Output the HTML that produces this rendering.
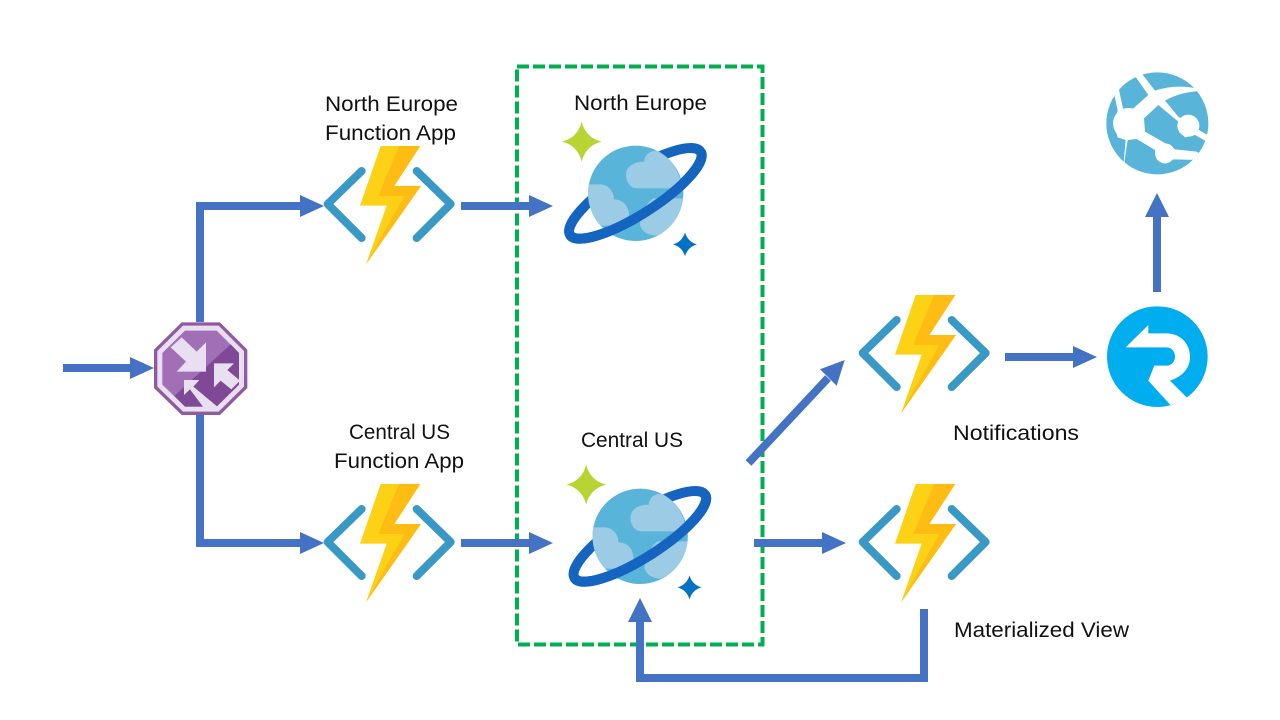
<!DOCTYPE html>
<html lang="en">
<head>
<meta charset="utf-8">
<title>Diagram</title>
<style>
html,body{margin:0;padding:0;background:#fff;width:1280px;height:720px;overflow:hidden}
svg{display:block}
text{font-family:"Liberation Sans",sans-serif;font-size:21.5px;fill:#111}
</style>
</head>
<body>
<svg width="1280" height="720" viewBox="0 0 1280 720" xmlns="http://www.w3.org/2000/svg">
<defs>
  <g id="fn">
    <path d="M140 108 L38 207 L140 309 M305 108 L407 207 L305 309" fill="none" stroke="#3999c6" stroke-width="24" stroke-linecap="round" stroke-linejoin="round"/>
    <path d="M197 33 L316 33 L238 153 L318 153 L153 388 L215 212 L135 212 Z" fill="#fcd116"/>
    <path d="M252 33 L316 33 L238 153 L318 153 L153 388 L268 183 L190 183 Z" fill="#ffbc13"/>
  </g>
  <clipPath id="sph"><circle cx="257" cy="235" r="143"/></clipPath>
  <g id="cosmos">
    <path d="M95 20 Q107 68 155 80 Q107 92 95 140 Q83 92 36 80 Q83 68 95 20Z" fill="#b8d432"/>
    <path d="M405 352 Q413 380 441 388 Q413 396 405 424 Q397 396 369 388 Q397 380 405 352Z" fill="#0072c6"/>
    <ellipse cx="256" cy="235" rx="232" ry="64" transform="rotate(-32.5 256 235)" fill="none" stroke="#1565c0" stroke-width="30"/>
    <circle cx="257" cy="235" r="143" fill="#59b4d9"/>
    <g clip-path="url(#sph)" fill="#9ccbe5">
      <path d="M262 220 C240 220 228 200 228 180 C228 155 250 140 283 140 C283 120 300 107 320 107 C350 110 380 150 400 220 Z"/>
      <path d="M100 208 L150 208 C175 208 192 230 192 253 C220 253 237 275 237 300 C237 320 225 332 210 332 L100 332 Z"/>
      <path d="M310 250 C285 265 270 305 270 330 C275 350 295 362 320 362 C360 350 400 300 400 250 Z"/>
    </g>
    <path d="M60 360 A232 64 -32.5 0 0 452 110" fill="none" stroke="#1565c0" stroke-width="30"/>
  </g>
  <clipPath id="sitec"><circle cx="187" cy="190" r="153"/></clipPath>
  <clipPath id="refc"><circle cx="187" cy="185" r="151"/></clipPath>
</defs>

<!-- dashed box -->
<rect x="517" y="66.5" width="245.500" height="578" fill="none" stroke="#00b050" stroke-width="4" stroke-dasharray="12 4"/>

<!-- connectors -->
<g fill="none" stroke="#4472c4" stroke-width="8">
  <path d="M63 368 H132"/>
  <path d="M200 322 V206 H302"/>
  <path d="M200 415 V543 H302"/>
  <path d="M461 206 H531"/>
  <path d="M461 543 H531"/>
  <path d="M748.500 463 L828 378"/>
  <path d="M754 543 H823"/>
  <path d="M1005 357 H1075"/>
  <path d="M1157 292 V215"/>
  <path d="M924 609 V678 H640 V620"/>
</g>
<g fill="#4472c4">
  <path d="M130 357 L154 368 L130 379Z"/>
  <path d="M300 195 L324 206 L300 217Z"/>
  <path d="M300 532 L324 543 L300 554Z"/>
  <path d="M529 195 L553 206 L529 217Z"/>
  <path d="M529 532 L553 543 L529 554Z"/>
  <path d="M820 369.300 L844.700 360 L836.700 385.700Z"/>
  <path d="M822 532 L846 543 L822 554Z"/>
  <path d="M1073 346 L1097 357 L1073 368Z"/>
  <path d="M1145 217 L1157 193 L1169 217Z"/>
  <path d="M628 622 L640 598 L652 622Z"/>
</g>

<!-- router -->
<g transform="translate(140 310) scale(.33333)">
  <path d="M125 37 H240 L322 119 V234 L240 315 H125 L42 234 V119 Z" fill="#8f5aa3"/>
  <path d="M129 47 H236 L312 123 V230 L236 305 H129 L52 230 V123 Z" fill="#e8dff0"/>
  <path d="M135 62 H230 L297 129 V224 L230 290 H135 L67 224 V129 Z" fill="#a06fb5"/>
  <path d="M272 103 L297 129 V224 L230 290 H135 L103 258 Z" fill="#804998"/>
  <g fill="#e8dff0">
    <path d="M125 82 L170 125 L198 97 V185 H110 L138 155 L92 112Z"/>
    <path d="M222 160 H282 L262 180 L300 212 L274 238 L242 212 L222 232Z"/>
    <path d="M132 210 H178 L160 230 L232 290 L200 305 L150 238 L132 255Z"/>
  </g>
</g>

<!-- function apps -->
<use href="#fn" transform="translate(315 135) scale(.33333)"/>
<use href="#fn" transform="translate(315 473) scale(.33333)"/>
<use href="#fn" transform="translate(850 284) scale(.33333)"/>
<use href="#fn" transform="translate(850 473) scale(.33333)"/>

<!-- cosmos -->
<use href="#cosmos" transform="translate(550 115) scale(.33333)"/>
<use href="#cosmos" transform="translate(554.500 458) scale(.33333)"/>

<!-- app service -->
<g transform="translate(1095 60) scale(.33333)">
  <g clip-path="url(#sitec)" fill="#59b4d9">
    <path d="M58 105 L68 152 L55 190 L68 232 L92 240 L85 320 L0 320 L0 60 Z"/>
    <path d="M70 80 L118 45 L160 105 L115 145 L85 150 Z"/>
    <path d="M140 40 L200 20 L320 60 L305 85 Q240 72 180 92 Z"/>
    <path d="M210 122 Q250 98 312 93 L360 150 L350 232 L320 215 L250 170 Z"/>
    <path d="M190 135 L250 185 L250 210 L270 232 L300 225 L345 250 L320 285 L305 275 L240 268 L220 255 L150 215 L147 175 Z"/>
    <path d="M98 240 L125 237 L180 270 L185 295 L210 310 L235 298 L310 300 L300 360 L80 360 Z"/>
  </g>
  <g fill="#fff">
    <circle cx="100" cy="190" r="46"/>
    <circle cx="280" cy="197" r="33"/>
    <circle cx="210" cy="280" r="30"/>
  </g>
</g>

<!-- refresh -->
<g transform="translate(1095 295) scale(.33333)">
  <circle cx="187" cy="185" r="151" fill="#00adef"/>
  <g clip-path="url(#refc)">
    <path d="M92 157 L160 90 V115 H215 C255 115 285 145 285 185 C285 220 262 245 225 257 L290 322 L240 345 L160 257 L178 212 H215 C230 212 240 200 240 185 C240 170 230 157 215 157 Z" fill="#fff"/>
  </g>
</g>

<!-- labels -->
<text x="325" y="111" textLength="133" lengthAdjust="spacingAndGlyphs">North Europe</text>
<text x="325" y="140" textLength="131" lengthAdjust="spacingAndGlyphs">Function App</text>
<text x="574" y="110" textLength="133" lengthAdjust="spacingAndGlyphs">North Europe</text>
<text x="349" y="439" textLength="101" lengthAdjust="spacingAndGlyphs">Central US</text>
<text x="334" y="468" textLength="130" lengthAdjust="spacingAndGlyphs">Function App</text>
<text x="581" y="447" textLength="102" lengthAdjust="spacingAndGlyphs">Central US</text>
<text x="953" y="440" textLength="126" lengthAdjust="spacingAndGlyphs">Notifications</text>
<text x="954" y="637" textLength="175" lengthAdjust="spacingAndGlyphs">Materialized View</text>
</svg>
</body>
</html>
